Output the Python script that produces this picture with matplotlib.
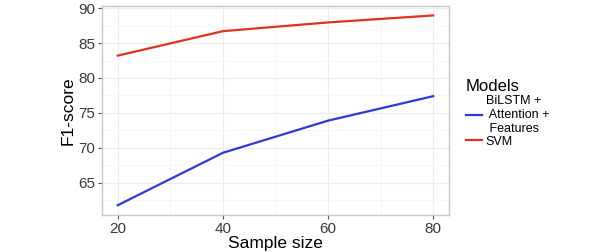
import matplotlib
matplotlib.use("Agg")
import matplotlib.pyplot as plt
from matplotlib.lines import Line2D
from matplotlib.ticker import MultipleLocator

plt.rcParams["font.family"] = ["Liberation Sans", "DejaVu Sans"]

sample_size = [20, 40, 60, 80]
bilstm_f1 = [61.8, 69.3, 73.9, 77.4]
svm_f1 = [83.2, 86.7, 87.95, 88.95]
series_labels = ["BiLSTM +\n Attention +\n Features", "SVM"]
series_colors = ["#2b3bd6", "#e0321c"]

fig = plt.figure(figsize=(6.08, 2.52), dpi=100)
ax = fig.add_axes([102 / 608, 37 / 252, 347 / 608, 209 / 252])

ax.plot(sample_size, bilstm_f1, color=series_colors[0], linewidth=1.6)
ax.plot(sample_size, svm_f1, color=series_colors[1], linewidth=1.6)

ax.set_xlim(17, 83)
ax.set_ylim(60.4, 90.3)
ax.xaxis.set_major_locator(MultipleLocator(20))
ax.xaxis.set_minor_locator(MultipleLocator(10))
ax.yaxis.set_major_locator(MultipleLocator(5))
ax.yaxis.set_minor_locator(MultipleLocator(2.5))
ax.grid(which="major", color="#ececec", linewidth=0.8)
ax.grid(which="minor", color="#f6f6f6", linewidth=0.6)
ax.set_axisbelow(True)
for spine in ax.spines.values():
    spine.set_color("#c8c8c8")
    spine.set_linewidth(1.0)
ax.tick_params(which="major", length=3, color="#555555", labelsize=11, labelcolor="#3a3a3a", pad=2)
ax.tick_params(which="minor", length=0)

ax.set_xlabel("Sample size", fontsize=12.5, labelpad=0)
ax.set_ylabel("F1-score", fontsize=12.5, labelpad=2)

handles = [Line2D([], [], color=c, linewidth=1.6) for c in series_colors]
leg = fig.legend(handles, series_labels, title="Models", loc="upper left",
                 bbox_to_anchor=(457 / 608, 1 - 70 / 252), frameon=False,
                 fontsize=9, title_fontsize=12, handlelength=1.3,
                 handletextpad=0.3, labelspacing=0.1, borderpad=0.2)
leg._legend_box.align = "left"
for text in leg.get_texts():
    text.set_multialignment("left")

fig.savefig("out.png", dpi=100)
